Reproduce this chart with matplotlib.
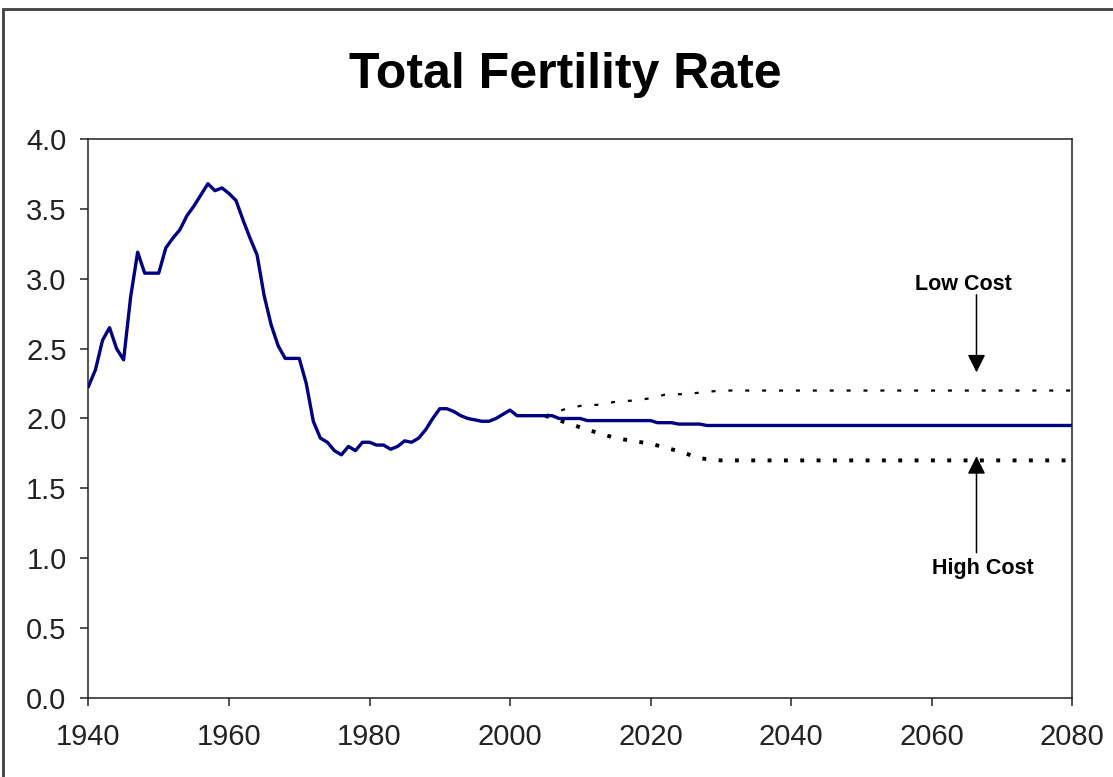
#!/usr/bin/env python3
"""
Total fertility rate: historical series plus intermediate, low-cost and high-cost projections.
"""

import matplotlib
matplotlib.use("Agg")
import matplotlib.pyplot as plt
from matplotlib.patches import Rectangle

# Historical / intermediate series
years = [1940, 1941, 1942, 1943, 1944, 1945, 1946, 1947, 1948, 1949,
         1950, 1951, 1952, 1953, 1954, 1955, 1956, 1957, 1958, 1959,
         1960, 1961, 1962, 1963, 1964, 1965, 1966, 1967, 1968, 1969,
         1970, 1971, 1972, 1973, 1974, 1975, 1976, 1977, 1978, 1979,
         1980, 1981, 1982, 1983, 1984, 1985, 1986, 1987, 1988, 1989,
         1990, 1991, 1992, 1993, 1994, 1995, 1996, 1997, 1998, 1999,
         2000, 2001, 2002, 2003, 2004, 2005, 2006, 2007, 2010, 2011,
         2020, 2021, 2023, 2024, 2027, 2028, 2080]
tfr = [2.23, 2.35, 2.56, 2.65, 2.50, 2.42, 2.87, 3.19, 3.04, 3.04,
       3.04, 3.22, 3.29, 3.35, 3.45, 3.52, 3.60, 3.68, 3.63, 3.65,
       3.61, 3.56, 3.42, 3.29, 3.17, 2.88, 2.67, 2.52, 2.43, 2.43,
       2.43, 2.25, 1.98, 1.86, 1.83, 1.77, 1.74, 1.80, 1.77, 1.83,
       1.83, 1.81, 1.81, 1.78, 1.80, 1.84, 1.83, 1.86, 1.92, 2.00,
       2.07, 2.07, 2.05, 2.02, 2.00, 1.99, 1.98, 1.98, 2.00, 2.03,
       2.06, 2.02, 2.02, 2.02, 2.02, 2.02, 2.02, 2.00, 2.00, 1.985,
       1.985, 1.97, 1.97, 1.96, 1.96, 1.95, 1.95]

# Low cost projection
low_years = [2005, 2008, 2010, 2013, 2015, 2018, 2020, 2022, 2025, 2027, 2030, 2080]
low_tfr = [2.02, 2.07, 2.09, 2.10, 2.12, 2.13, 2.145, 2.17, 2.175, 2.185, 2.20, 2.20]

# High cost projection
high_years = [2005, 2008, 2011, 2013, 2015, 2018, 2020, 2023, 2025, 2027, 2030, 2080]
high_tfr = [2.02, 1.97, 1.92, 1.89, 1.86, 1.835, 1.82, 1.78, 1.75, 1.715, 1.70, 1.70]

x_ticks = [1940, 1960, 1980, 2000, 2020, 2040, 2060, 2080]
y_ticks = [0.0, 0.5, 1.0, 1.5, 2.0, 2.5, 3.0, 3.5, 4.0]

tick_font = ['Liberation Sans', 'DejaVu Sans']

fig = plt.figure(figsize=(11.13, 7.77), dpi=100)
ax = fig.add_axes([0.0795, 0.1017, 0.8837, 0.7194])

# Outer chart frame
fig.patches.append(Rectangle((3 / 1113, -0.05), 1.2, 1 - 9 / 777 + 0.05,
                             transform=fig.transFigure, fill=False,
                             edgecolor='#404040', linewidth=2))

ax.plot(low_years, low_tfr, color='black', linewidth=1.6,
        linestyle=(0, (1.8, 5.8)), zorder=2)
ax.plot(high_years, high_tfr, color='black', linewidth=2.8,
        linestyle=(0, (1, 3.2)), zorder=2)
ax.plot(years, tfr, color='#000080', linewidth=2.4, zorder=3)

ax.set_xlim(1940, 2080)
ax.set_ylim(0, 4)
ax.set_xticks(x_ticks)
ax.set_yticks(y_ticks)
ax.set_yticklabels([f"{v:.1f}" for v in y_ticks])

for lab in ax.get_xticklabels() + ax.get_yticklabels():
    lab.set_family(tick_font)
    lab.set_fontsize(21)
    lab.set_color('#222222')

ax.tick_params(axis='both', direction='out', length=5.8, width=1.1, color='#222222')
ax.tick_params(axis='x', pad=12)
ax.tick_params(axis='y', pad=10)
for sp in ax.spines.values():
    sp.set_linewidth(1.1)
    sp.set_color('#222222')

# Annotations
ax.annotate('', xy=(2066.4, 2.33), xytext=(2066.4, 2.885),
            arrowprops=dict(arrowstyle='-|>,head_length=0.54,head_width=0.27',
                            mutation_scale=20, color='black', linewidth=1.1,
                            shrinkA=0, shrinkB=0))
ax.annotate('', xy=(2066.4, 1.73), xytext=(2066.4, 1.04),
            arrowprops=dict(arrowstyle='-|>,head_length=0.54,head_width=0.27',
                            mutation_scale=20, color='black', linewidth=1.1,
                            shrinkA=0, shrinkB=0))
ax.text(2064.6, 2.96, 'Low Cost', ha='center', va='center', fontsize=15.5,
        fontweight='bold', family=['Liberation Sans', 'DejaVu Sans'])
ax.text(2067.3, 0.93, 'High Cost', ha='center', va='center', fontsize=15.5,
        fontweight='bold', family=['Liberation Sans', 'DejaVu Sans'])

fig.text(565 / 1113, 1 - 88 / 777, 'Total Fertility Rate', ha='center',
         va='baseline', fontsize=36, fontweight='bold',
         family=['Liberation Sans', 'DejaVu Sans'])

plt.savefig('out.png', dpi=100)
plt.close()
